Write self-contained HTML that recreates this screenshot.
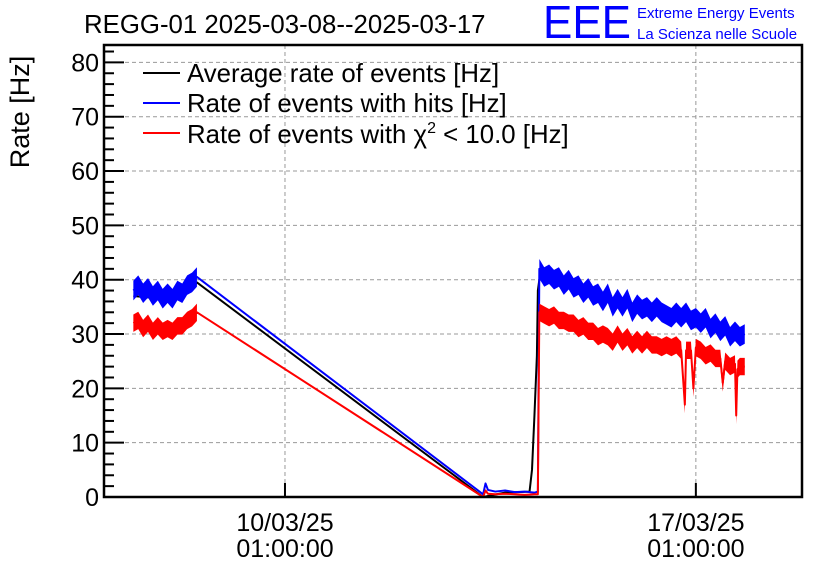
<!DOCTYPE html>
<html><head><meta charset="utf-8"><style>
body{margin:0;background:#fff}
svg{display:block;font-family:"Liberation Sans",sans-serif}
</style></head><body>
<svg id="chart" width="836" height="572">
<text x="84" y="33" font-size="25.8">REGG-01 2025-03-08--2025-03-17</text>
<text x="543" y="38" font-size="46" fill="#0000ff" textLength="88" lengthAdjust="spacingAndGlyphs">EEE</text>
<text x="637" y="18" font-size="15" fill="#0000ff">Extreme Energy Events</text>
<text x="637" y="39" font-size="15" fill="#0000ff">La Scienza nelle Scuole</text>
<text transform="translate(29,112) rotate(-90)" text-anchor="middle" font-size="27">Rate [Hz]</text>
<g id="grid"></g>
<g id="series"></g>
<g id="axes"></g>
<g font-size="25.8">
<line x1="143" y1="73" x2="180" y2="73" stroke="#000" stroke-width="2"/>
<text x="187" y="82">Average rate of events [Hz]</text>
<line x1="143" y1="103" x2="180" y2="103" stroke="#0000ff" stroke-width="2"/>
<text x="187" y="112">Rate of events with hits [Hz]</text>
<line x1="143" y1="133" x2="180" y2="133" stroke="#ff0000" stroke-width="2"/>
<text x="187" y="143">Rate of events with χ<tspan dy="-10" font-size="16">2</tspan><tspan dy="10"> &lt; 10.0 [Hz]</tspan></text>
</g>
</svg>
<script>
// hours since 10/03/25 01:00:00
const blueT=[-62,-60,-58,-56,-54,-52,-50,-48,-46,-44,-42,-40,-38,-36,81,82,83,86,90,94,98,102,103.4,104,106,108,110,112,114,116,118,120,122,124,126,128,130,132,134,136,138,140,142,144,146,148,150,152,154,156,158,160,162,164,166,168,170,172,174,176,178,180,182,184,186,188];
const blueV=[38,39,37.5,38.5,37,38,36.5,37.5,36.5,38,37.5,39,39.5,40.5,0.5,2.5,1.3,1,1.2,0.9,1,0.8,1,42,40.5,41,40,40.5,39,40,38.5,39,37.5,38.5,37,37.5,36,37.5,35,36.5,35,36.5,34,35.5,34.5,35,34,35,34,33.5,33,34,33,34,32.5,33,32,33,31,32,30.5,31.5,29.5,30.5,29.5,30];
const blackT=[-62,-50,-40,-36,81,90,100,101,102,103,103.4,104];
const blackV=[37,36.5,37.5,39.5,0,0.8,1,5,15,26,38,40];
const redT=[-62,-60,-58,-56,-54,-52,-50,-48,-46,-44,-42,-40,-38,-36,81,82,83,86,90,94,98,102,103.4,104,106,108,110,112,114,116,118,120,122,124,126,128,130,132,134,136,138,140,142,144,146,148,150,152,154,156,158,160,162,163.5,164,166,167,168,170,172,174,176,178,179,180,182,184,184.5,185,186,188];
const redV=[32,32.5,31,32,30.5,31.5,30.5,31,30.5,31.5,31.5,32.5,33,34,0,1.2,0.6,0.5,0.6,0.5,0.4,0.5,0.5,34,33.5,33,33.5,32.5,32.5,32,32,31,31.5,30.5,30.5,29.5,30,29.5,28.5,30,28.5,29.5,28,29,28,29,28,28,27.5,28,27.5,28,27,17,27,27,20,27.5,27,26,26.5,25.5,25.5,21,25,24,24.5,15,23.5,24,24];
const yTicks=[0,10,20,30,40,50,60,70,80];
const xTicks=[0,168];
const xLabels=[["10/03/25","01:00:00"],["17/03/25","01:00:00"]];

const L=104,R=802,T=45,B=497,xmin=-74,xmax=211.4,ymax=83.2;
const X=t=>L+(t-xmin)/(xmax-xmin)*(R-L);
const Y=v=>B-v/ymax*(B-T);
const NS="http://www.w3.org/2000/svg";
function mk(tag,parent,attrs){const e=document.createElementNS(NS,tag);for(const k in attrs)e.setAttribute(k,attrs[k]);parent.appendChild(e);return e;}
const grid=document.getElementById('grid'),axes=document.getElementById('axes'),ser=document.getElementById('series');
yTicks.forEach(v=>{
  const g=mk('line',grid,{x1:L,x2:R,y1:Y(v),y2:Y(v),stroke:'#999','stroke-dasharray':'4,3','stroke-width':1});
  
  
  const tk=mk('line',axes,{x1:L,x2:L+20,y1:Y(v),y2:Y(v),stroke:'#000','stroke-width':2});
  
  
  const tx=mk('text',axes,{x:L-5,y:Y(v)+9,'text-anchor':'end','font-size':25});
  tx.textContent=v;
  
  
});
for(let v=2;v<ymax;v+=2){ if(v%10===0)continue;
  const m=mk('line',axes,{x1:L,x2:L+10,y1:Y(v),y2:Y(v),stroke:'#000','stroke-width':2});
  
  
}
xTicks.forEach((t,i)=>{
  const g=mk('line',grid,{x1:X(t),x2:X(t),y1:T,y2:B,stroke:'#999','stroke-dasharray':'4,3','stroke-width':1});
  
  
  const tk=mk('line',axes,{x1:X(t),x2:X(t),y1:B,y2:B-14,stroke:'#000','stroke-width':2});
  
  
  xLabels[i].forEach((s,j)=>{
    const tx=mk('text',axes,{x:X(t),y:531+j*26,'text-anchor':'middle','font-size':25});
    tx.textContent=s;
    
    
  });
});
const fr=mk('rect',axes,{x:L,y:T,width:R-L,height:B-T,fill:'none',stroke:'#000','stroke-width':2.5});


function line(ts,vs,col,w,name){
  const p=mk('polyline',ser,{points:ts.map((t,i)=>X(t)+','+Y(vs[i])).join(' '),fill:'none',stroke:col,'stroke-width':w,'stroke-linejoin':'round'});
  
  
}
// noise band around the densely-sampled segments
function band(ts,vs,col,h,name){
  const segs=[[],[]];
  ts.forEach((t,i)=>{ if(t<=-36) segs[0].push(i); else if(t>=104) segs[1].push(i); });
  segs.forEach(idx=>{
    if(idx.length<2)return;
    const up=idx.map(i=>X(ts[i])+','+Y(vs[i]+h));
    const dn=idx.slice().reverse().map(i=>X(ts[i])+','+Y(vs[i]-h));
    const p=mk('polygon',ser,{points:up.concat(dn).join(' '),fill:col});
    
    
  });
}
line(blackT,blackV,'#000',2,'series-average');
band(blueT,blueV,'#0000ff',1.8,'series-hits-band');
line(blueT,blueV,'#0000ff',2,'series-hits');
band(redT,redV,'#ff0000',1.6,'series-chi2-band');
line(redT,redV,'#ff0000',2,'series-chi2');
</script>
</body></html>
